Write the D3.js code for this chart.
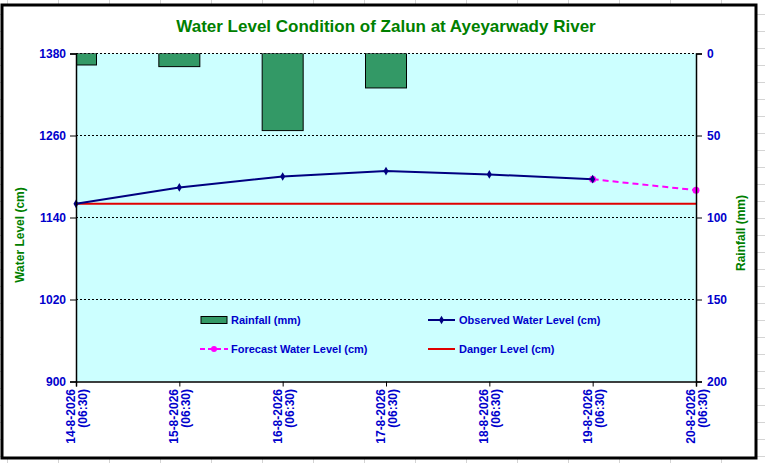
<!DOCTYPE html>
<html>
<head>
<meta charset="utf-8">
<script src="https://cdn.jsdelivr.net/npm/d3@7"></script>
<style>
  body { margin: 0; background: #fff; }
  text { font-family: Arial, "Liberation Sans", sans-serif; }
</style>
</head>
<body>
<svg id="chart" width="765" height="463"></svg>
<script>
// data
const dates = ["14-8-2026", "15-8-2026", "16-8-2026", "17-8-2026", "18-8-2026", "19-8-2026", "20-8-2026"];
const times = ["(06:30)", "(06:30)", "(06:30)", "(06:30)", "(06:30)", "(06:30)", "(06:30)"];
const rainfall = [7, 8, 47, 21, 0, 0, 0];
const observed = [1160, 1184, 1200, 1208, 1203, 1196];
const forecastDates = ["19-8-2026", "20-8-2026"];
const forecast = [1196, 1180];
const dangerLevel = 1160;
const levelTicks = [900, 1020, 1140, 1260, 1380];
const rainTicks = [0, 50, 100, 150, 200];

const svg = d3.select("#chart");
const W = 765, H = 463;

// spreadsheet cells behind the chart
const cells = svg.append("g").attr("stroke", "#d4d4d4").attr("stroke-width", 1);
d3.range(7, W, 51).forEach(cx => {
    cells.append("line").attr("x1", cx + 0.5).attr("x2", cx + 0.5).attr("y1", 0).attr("y2", H);
});
d3.range(14, H, 17).forEach(cy => {
    cells.append("line").attr("x1", 0).attr("x2", W).attr("y1", cy + 0.5).attr("y2", cy + 0.5);
});

// chart area
svg.append("rect")
    .attr("x", 2).attr("y", 5)
    .attr("width", 754).attr("height", 453)
    .attr("fill", "#fff")
    .attr("stroke", "#000")
    .attr("stroke-width", 3);

const pLeft = 76, pRight = 696, pTop = 53.5, pBottom = 381.5;

const x = d3.scalePoint().domain(dates).range([pLeft, pRight]);
const yLevel = d3.scaleLinear().domain([900, 1380]).range([pBottom, pTop]);
const yRain = d3.scaleLinear().domain([0, 200]).range([pTop, pBottom]);

svg.append("rect")
    .attr("x", pLeft).attr("y", pTop)
    .attr("width", pRight - pLeft).attr("height", pBottom - pTop)
    .attr("fill", "#ccffff");

svg.append("defs").append("clipPath").attr("id", "plot")
    .append("rect")
    .attr("x", pLeft).attr("y", pTop)
    .attr("width", pRight - pLeft).attr("height", pBottom - pTop);

// gridlines
svg.append("g").selectAll("line")
    .data(levelTicks.slice(1))
    .enter().append("line")
    .attr("x1", pLeft).attr("x2", pRight)
    .attr("y1", d => yLevel(d)).attr("y2", d => yLevel(d))
    .attr("stroke", "#000")
    .attr("stroke-width", 1)
    .attr("stroke-dasharray", "2,2");

// rainfall bars hanging from the top
const barW = 41;
svg.append("g").attr("clip-path", "url(#plot)")
    .selectAll("rect")
    .data(dates.map((d, i) => ({ date: d, value: rainfall[i] })).filter(d => d.value > 0))
    .enter().append("rect")
    .attr("x", d => x(d.date) - barW / 2)
    .attr("y", yRain(0))
    .attr("width", barW)
    .attr("height", d => yRain(d.value) - yRain(0))
    .attr("fill", "#339966")
    .attr("stroke", "#000")
    .attr("stroke-width", 1);

// danger level
svg.append("line")
    .attr("x1", pLeft).attr("x2", pRight)
    .attr("y1", yLevel(dangerLevel)).attr("y2", yLevel(dangerLevel))
    .attr("stroke", "#e00000")
    .attr("stroke-width", 2);

// forecast
const fc = forecastDates.map((d, i) => ({ date: d, value: forecast[i] }));
svg.append("path")
    .datum(fc)
    .attr("fill", "none")
    .attr("stroke", "#ff00ff")
    .attr("stroke-width", 2)
    .attr("stroke-dasharray", "6,4")
    .attr("d", d3.line().x(d => x(d.date)).y(d => yLevel(d.value)));

svg.append("g").selectAll("circle")
    .data(fc)
    .enter().append("circle")
    .attr("cx", d => x(d.date))
    .attr("cy", d => yLevel(d.value))
    .attr("r", 3.5)
    .attr("fill", "#ff00ff");

// observed
const obs = observed.map((v, i) => ({ date: dates[i], value: v }));
svg.append("path")
    .datum(obs)
    .attr("fill", "none")
    .attr("stroke", "#000080")
    .attr("stroke-width", 2)
    .attr("d", d3.line().x(d => x(d.date)).y(d => yLevel(d.value)));

svg.append("g").selectAll("path")
    .data(obs)
    .enter().append("path")
    .attr("transform", d => `translate(${x(d.date)}, ${yLevel(d.value)})`)
    .attr("d", d3.symbol(d3.symbolDiamond, 22))
    .attr("fill", "#000080");

// axes
const blue = "#0000cc";
const leftAxis = svg.append("g")
    .attr("transform", `translate(${pLeft},0)`)
    .call(d3.axisLeft(yLevel).tickValues(levelTicks).tickFormat(d3.format("d")).tickSize(6).tickPadding(4));
const rightAxis = svg.append("g")
    .attr("transform", `translate(${pRight},0)`)
    .call(d3.axisRight(yRain).tickValues(rainTicks).tickFormat(d3.format("d")).tickSize(6).tickPadding(5));
const bottomAxis = svg.append("g")
    .attr("transform", `translate(0,${pBottom})`)
    .call(d3.axisBottom(x).tickSize(5).tickFormat(""));

[leftAxis, rightAxis, bottomAxis].forEach(a => {
    a.select(".domain").attr("stroke", "#000").attr("stroke-width", 1.5);
    a.selectAll(".tick line").attr("stroke", "#000");
    a.selectAll("text")
        .attr("fill", blue)
        .style("font-size", "12px")
        .style("font-weight", "bold");
});

// rotated date labels
const xl = svg.append("g");
dates.forEach((d, i) => {
    const g = xl.append("g")
        .attr("transform", `translate(${x(d)}, 389) rotate(-90)`);
    g.append("text")
        .attr("x", 0).attr("y", -1)
        .attr("text-anchor", "end")
        .attr("fill", blue)
        .style("font-size", "12px")
        .style("font-weight", "bold")
        .text(d);
    g.append("text")
        .attr("x", 0).attr("y", 11)
        .attr("text-anchor", "end")
        .attr("fill", blue)
        .style("font-size", "12px")
        .style("font-weight", "bold")
        .text(times[i]);
});

// titles
const green = "#008000";
svg.append("text")
    .attr("x", 386).attr("y", 32)
    .attr("text-anchor", "middle")
    .attr("fill", green)
    .style("font-size", "17px")
    .style("font-weight", "bold")
    .text("Water Level Condition of Zalun at Ayeyarwady River");

svg.append("text")
    .attr("transform", "translate(24, 235) rotate(-90)")
    .attr("text-anchor", "middle")
    .attr("fill", green)
    .style("font-size", "12px")
    .style("font-weight", "bold")
    .text("Water Level (cm)");

svg.append("text")
    .attr("transform", "translate(745, 233) rotate(-90)")
    .attr("text-anchor", "middle")
    .attr("fill", green)
    .style("font-size", "12px")
    .style("font-weight", "bold")
    .text("Rainfall (mm)");

// legend
const legend = svg.append("g").style("font-size", "11px").style("font-weight", "bold");
function legendText(lx, ly, label) {
    legend.append("text")
        .attr("x", lx).attr("y", ly + 4)
        .attr("fill", blue)
        .text(label);
}
legend.append("rect")
    .attr("x", 201).attr("y", 316.5)
    .attr("width", 26).attr("height", 7)
    .attr("fill", "#339966").attr("stroke", "#000");
legendText(231, 320, "Rainfall (mm)");

legend.append("line")
    .attr("x1", 428).attr("x2", 455).attr("y1", 320).attr("y2", 320)
    .attr("stroke", "#000080").attr("stroke-width", 2);
legend.append("path")
    .attr("transform", "translate(441.5,320)")
    .attr("d", d3.symbol(d3.symbolDiamond, 22))
    .attr("fill", "#000080");
legendText(459, 320, "Observed Water Level (cm)");

legend.append("line")
    .attr("x1", 200).attr("x2", 228).attr("y1", 349).attr("y2", 349)
    .attr("stroke", "#ff00ff").attr("stroke-width", 2)
    .attr("stroke-dasharray", "5,3");
legend.append("circle")
    .attr("cx", 214).attr("cy", 349).attr("r", 3)
    .attr("fill", "#ff00ff");
legendText(231, 349, "Forecast Water Level (cm)");

legend.append("line")
    .attr("x1", 428).attr("x2", 455).attr("y1", 349).attr("y2", 349)
    .attr("stroke", "#e00000").attr("stroke-width", 2);
legendText(459, 349, "Danger Level (cm)");
</script>
</body>
</html>
